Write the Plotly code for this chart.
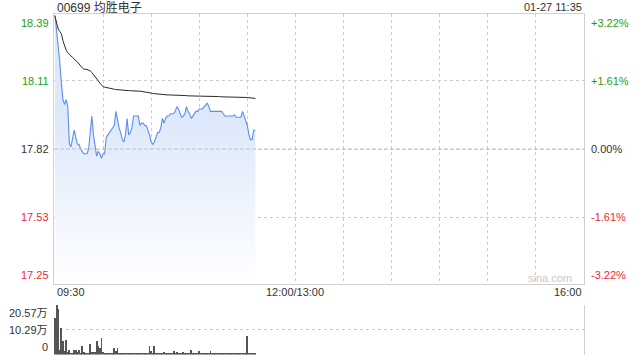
import plotly.graph_objects as go

# ---------------- data ----------------
title_text = "00699 均胜电子"
time_text = "01-27 11:35"
prev_close = 17.82

price_ticks = [18.39, 18.11, 17.82, 17.53, 17.25]
pct_ticks = ["+3.22%", "+1.61%", "0.00%", "-1.61%", "-3.22%"]
time_ticks = [0, 30, 60, 90, 120, 150, 180, 210, 240, 270, 300, 330]
time_labels = ["09:30", "12:00/13:00", "16:00"]
time_label_pos = [0, 150, 330]
vol_ticks = [20.57, 10.29, 0]
vol_labels = ["20.57万", "10.29万", "0"]

price = [
    18.39, 18.33, 18.26, 18.19, 18.10, 18.03, 18.01, 18.03, 18.00, 17.84,
    17.83, 17.86, 17.90, 17.87, 17.84, 17.84, 17.82, 17.81, 17.80, 17.80,
    17.80, 17.82, 17.90, 17.96, 17.88, 17.83, 17.79, 17.81, 17.80, 17.78,
    17.80, 17.80, 17.87, 17.88, 17.89, 17.90, 17.91, 17.92, 17.98, 17.94,
    17.91, 17.89, 17.86, 17.85, 17.88, 17.95, 17.88, 17.89, 17.91, 17.96,
    17.96, 17.96, 17.96, 17.92, 17.93, 17.93, 17.92, 17.92, 17.90, 17.88,
    17.85, 17.84, 17.85, 17.87, 17.89, 17.89, 17.91, 17.95, 17.93, 17.95,
    17.96, 17.96, 17.97, 17.97, 17.97, 17.98, 18.00, 17.99, 17.97, 17.955,
    17.96, 17.97, 18.00, 17.98, 17.97, 17.95, 17.96, 17.97, 17.98, 17.98,
    17.99, 17.99, 17.99, 18.00, 18.01, 18.015, 18.00, 17.98, 17.98, 17.98,
    17.98, 17.98, 17.98, 17.98, 17.98, 17.97, 17.96, 17.96, 17.96, 17.96,
    17.96, 17.96, 17.965, 17.955, 17.955, 17.955, 17.955, 17.98, 17.96, 17.94,
    17.92, 17.88, 17.86, 17.86, 17.90, 17.90,
]

avg_price = [
    18.385, 18.35, 18.33, 18.32, 18.31, 18.28, 18.26, 18.24, 18.23, 18.22,
    18.215, 18.21, 18.20, 18.195, 18.19, 18.18, 18.17, 18.165, 18.16, 18.16,
    18.158, 18.155, 18.153, 18.145, 18.137, 18.13, 18.12, 18.11, 18.10, 18.09,
    18.085, 18.083, 18.081, 18.08, 18.078, 18.077, 18.075, 18.074, 18.073, 18.072,
    18.071, 18.070, 18.070, 18.069, 18.069, 18.068, 18.068, 18.068, 18.067, 18.067,
    18.067, 18.066, 18.066, 18.066, 18.065, 18.065, 18.064, 18.064, 18.062, 18.060,
    18.058, 18.056, 18.055, 18.054, 18.053, 18.053, 18.052, 18.052, 18.051, 18.051,
    18.050, 18.050, 18.050, 18.049, 18.049, 18.049, 18.048, 18.048, 18.048, 18.047,
    18.047, 18.047, 18.047, 18.046, 18.046, 18.046, 18.046, 18.045, 18.045, 18.045,
    18.045, 18.045, 18.044, 18.044, 18.044, 18.044, 18.044, 18.043, 18.043, 18.043,
    18.043, 18.043, 18.043, 18.042, 18.042, 18.042, 18.042, 18.042, 18.042, 18.042,
    18.041, 18.041, 18.041, 18.041, 18.041, 18.041, 18.041, 18.041, 18.041, 18.040,
    18.039, 18.038, 18.037, 18.036, 18.035, 18.035,
]

volume = [
    15.3, 20.6, 18.9, 1.8, 10.9, 5.6, 1.4, 6.0, 1.2, 1.8,
    0.8, 0.6, 1.8, 1.8, 1.2, 1.8, 0.8, 3.6, 1.0, 0.6,
    0.4, 0.5, 4.4, 1.2, 1.0, 1.2, 5.7, 3.6, 2.5, 6.9,
    1.2, 0.4, 0.6, 0.8, 0.6, 0.4, 0.8, 2.8, 1.4, 2.8,
    0.6, 0.4, 0.8, 0.3, 0.5, 0.4, 0.3, 0.6, 0.4, 0.5,
    0.3, 0.4, 0.6, 0.3, 0.5, 0.4, 0.3, 0.5, 0.6, 3.6,
    1.4, 0.5, 3.6, 0.6, 0.4, 0.8, 0.5, 0.6, 1.2, 0.4,
    0.5, 0.3, 0.6, 0.8, 1.4, 0.5, 1.2, 0.4, 0.6, 0.3,
    1.2, 0.5, 0.4, 0.6, 0.5, 1.8, 0.4, 0.3, 0.6, 0.5,
    1.4, 0.4, 0.5, 0.3, 0.6, 0.4, 0.5, 1.4, 0.4, 0.3,
    0.5, 0.6, 0.4, 0.3, 0.5, 0.4, 0.8, 0.4, 0.3, 0.5,
    0.6, 0.4, 0.3, 0.5, 0.4, 0.3, 0.4, 0.5, 0.4, 0.6,
    7.8, 0.4, 0.3, 0.4, 0.3, 0.4,
]

minutes = list(range(len(price)))

# ---------------- style ----------------
FONT = "Arial, Liberation Sans, Noto Sans CJK SC, sans-serif"
GREEN = "#1a9f1a"
RED = "#f0282d"
DARK = "#333333"
GRID = "#cccccc"
BORDER = "#d0d0d0"
tick_colors = [GREEN, GREEN, DARK, RED, RED]

fig = go.Figure()

fig.add_trace(go.Scatter(
    x=minutes, y=price, mode="lines",
    line=dict(color="#5a8ef0", width=1.1),
    fill="tozeroy",
    fillgradient=dict(type="vertical",
                      colorscale=[[0, "rgba(255,255,255,1)"], [1, "rgba(221,232,251,1)"]],
                      start=17.25, stop=17.95),
    xaxis="x", yaxis="y", hoverinfo="skip",
))
fig.add_trace(go.Scatter(
    x=minutes, y=avg_price, mode="lines",
    line=dict(color="#2b2b2b", width=1),
    xaxis="x", yaxis="y", hoverinfo="skip",
))
fig.add_trace(go.Bar(
    x=minutes, y=volume, width=0.55,
    marker=dict(color="#555555", line=dict(width=0)),
    xaxis="x2", yaxis="y2", hoverinfo="skip",
))

xdom = [54 / 640, 584 / 640]
ydom_main = [1 - 284 / 360, 1 - 14 / 360]
ydom_vol = [1 - 354.5 / 360, 1 - 305 / 360]
xrange_ = [-0.6, 330]

fig.update_layout(
    width=640, height=360,
    margin=dict(l=0, r=0, t=0, b=0),
    paper_bgcolor="white", plot_bgcolor="white",
    showlegend=False,
    font=dict(family=FONT, size=11, color=DARK),
    bargap=0,
    xaxis=dict(domain=xdom, range=xrange_, tickvals=time_ticks, showticklabels=False,
               showgrid=True, gridcolor=GRID, griddash="dot", gridwidth=1,
               showline=True, linecolor=BORDER, linewidth=1, mirror=True,
               zeroline=False, ticks=""),
    yaxis=dict(domain=ydom_main, range=[17.246, 18.394], tickvals=price_ticks,
               showticklabels=False, showgrid=True, gridcolor=GRID, griddash="dot",
               showline=True, linecolor=BORDER, linewidth=1, mirror=True,
               zeroline=False, ticks=""),
    xaxis2=dict(domain=xdom, range=xrange_, anchor="y2", showticklabels=False,
                showgrid=False, showline=False, zeroline=False, ticks=""),
    yaxis2=dict(domain=ydom_vol, range=[0, 20.57], tickvals=vol_ticks, anchor="x2",
                side="right", showticklabels=False, showgrid=True, gridcolor=GRID,
                griddash="dot", showline=True, linecolor=BORDER, linewidth=1,
                zeroline=False, ticks=""),
)

# previous close dashed line
fig.add_shape(type="line", xref="x", yref="y", x0=xrange_[0], x1=xrange_[1],
              y0=prev_close, y1=prev_close,
              line=dict(color="#c0c0c0", width=1, dash="4px,2px"))

ann = []
ann.append(dict(text=title_text, x=55 / 640, y=1 - 7 / 360, xref="paper", yref="paper",
                xanchor="left", yanchor="middle", showarrow=False,
                font=dict(size=12, color=DARK)))
ann.append(dict(text=time_text, x=584 / 640, y=1 - 7 / 360, xref="paper", yref="paper",
                xanchor="right", yanchor="middle", showarrow=False,
                font=dict(size=11, color=DARK)))
n = len(price_ticks)
for i, (v, p, c) in enumerate(zip(price_ticks, pct_ticks, tick_colors)):
    ya = "top" if i == 0 else ("bottom" if i == n - 1 else "middle")
    ann.append(dict(text=f"{v:.2f}", x=51 / 640, y=v, xref="paper", yref="y",
                    xanchor="right", yanchor=ya, showarrow=False,
                    font=dict(size=11, color=c)))
    ann.append(dict(text=p, x=589 / 640, y=v, xref="paper", yref="y",
                    xanchor="left", yanchor=ya, showarrow=False,
                    font=dict(size=11, color=c)))
for lab, pos, xa in zip(time_labels, time_label_pos, ["left", "center", "right"]):
    ann.append(dict(text=lab, x=pos, y=1 - 292 / 360, xref="x", yref="paper",
                    xanchor=xa, yanchor="middle", showarrow=False,
                    font=dict(size=11, color=DARK)))
for i, (v, lab) in enumerate(zip(vol_ticks, vol_labels)):
    ya = "top" if i == 0 else ("bottom" if i == len(vol_ticks) - 1 else "middle")
    ann.append(dict(text=lab, x=50 / 640, y=v, xref="paper", yref="y2",
                    xanchor="right", yanchor=ya, showarrow=False,
                    font=dict(size=11, color=DARK)))
ann.append(dict(text="sina.com", x=574 / 640, y=1 - 278 / 360, xref="paper", yref="paper",
                xanchor="right", yanchor="middle", showarrow=False,
                font=dict(size=11, color="#c8c8c8")))
fig.update_layout(annotations=ann)

fig.write_html("out.html")
